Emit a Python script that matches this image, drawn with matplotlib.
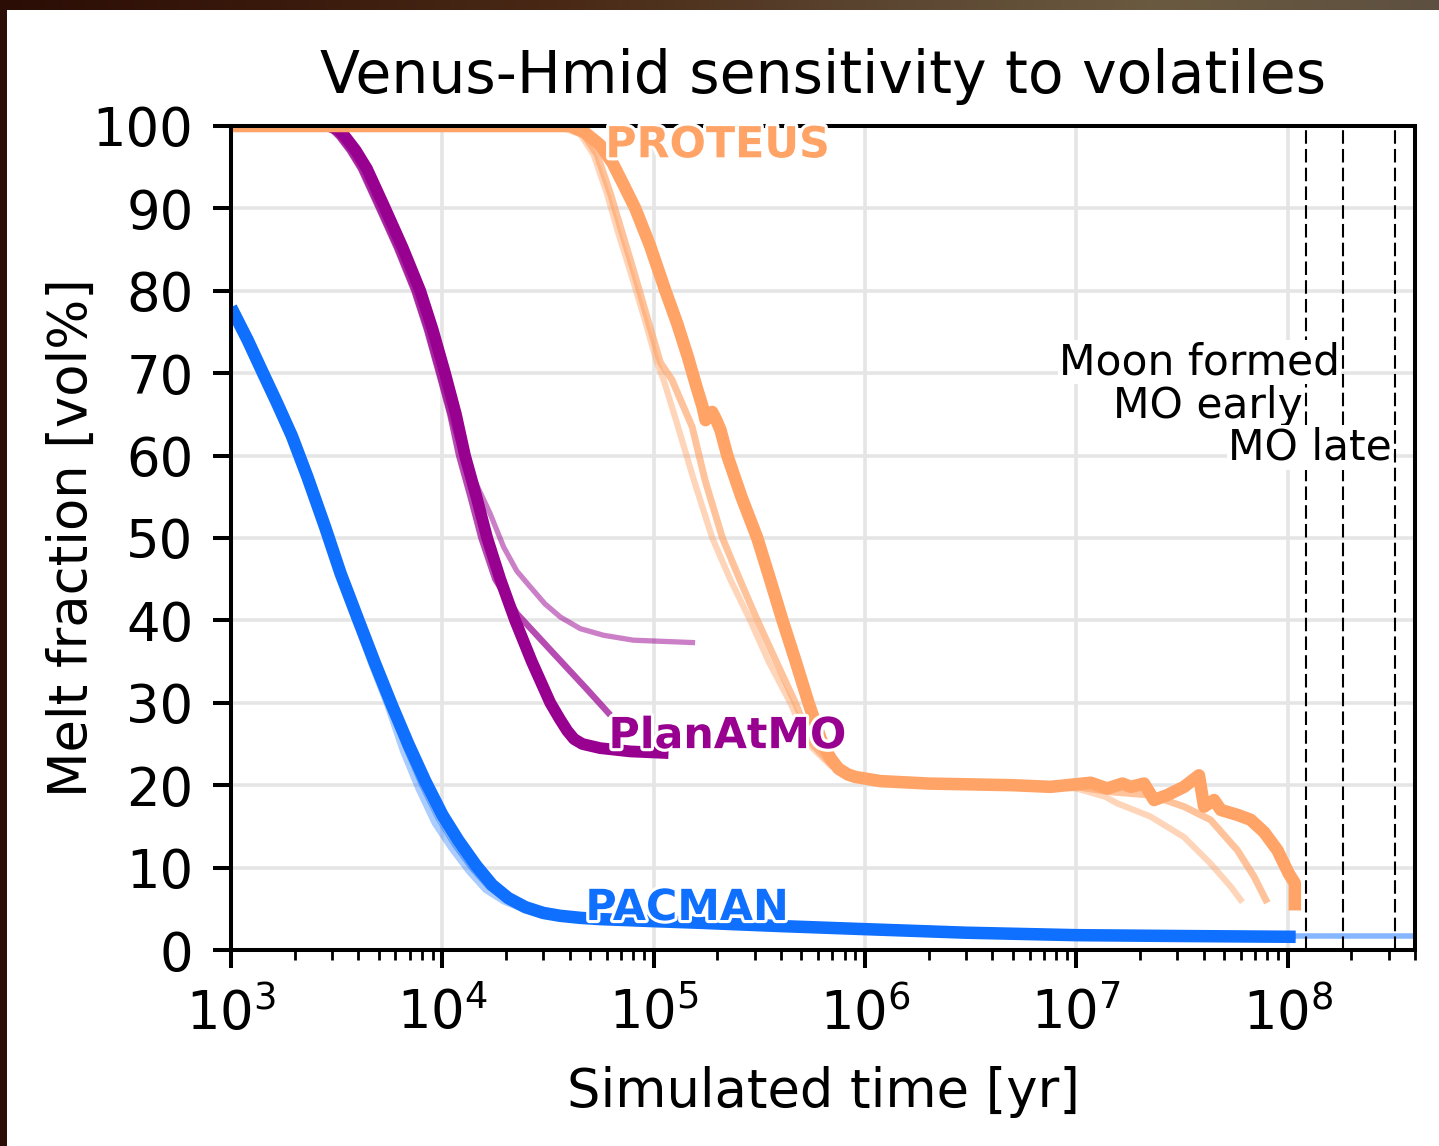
import matplotlib
matplotlib.use("Agg")
import matplotlib.pyplot as plt
import matplotlib.patheffects as pe
from matplotlib.patches import Rectangle
from matplotlib.colors import LinearSegmentedColormap
import numpy as np

# PACMAN runs
pacman_t1 = [1.0e3, 1.2e3, 1.4e3, 1.65e3, 1.94e3, 2.3e3, 2.79e3, 3.3e3, 4.01e3, 4.8e3,
             5.77e3, 6.9e3, 8.3e3, 1.0e4, 1.19e4, 1.45e4, 1.72e4, 2.05e4, 2.47e4, 3.0e4,
             3.61e4, 4.5e4, 5.58e4, 1.0e5, 1.66e5, 4.0e5, 9.5e5, 3.0e6, 1.0e7, 3.0e7, 1.09e8]
pacman_m1 = [78.0, 74.0, 70.3, 66.4, 62.4, 57.4, 51.3, 45.7, 40.0, 34.8,
             29.7, 25.0, 20.5, 16.4, 13.3, 10.2, 7.9, 6.3, 5.2, 4.5,
             4.15, 3.9, 3.75, 3.5, 3.3, 2.9, 2.55, 2.1, 1.8, 1.7, 1.6]
pacman_t2 = [1.0e3, 1.2e3, 1.4e3, 1.65e3, 1.94e3, 2.3e3, 2.79e3, 3.3e3, 3.95e3, 4.7e3,
             5.6e3, 6.7e3, 8.0e3, 9.6e3, 1.14e4, 1.39e4, 1.66e4, 2.0e4, 2.42e4, 3.0e4,
             3.61e4, 4.5e4, 5.58e4, 1.0e5, 1.66e5, 4.0e5, 9.5e5, 3.0e6, 1.0e7, 3.0e7, 1.09e8, 4.0e8]
pacman_m2 = [78.0, 74.0, 70.3, 66.4, 62.4, 57.4, 51.3, 45.7, 40.0, 34.8,
             29.7, 24.6, 20.0, 15.9, 12.8, 9.8, 7.6, 6.1, 5.1, 4.5,
             4.15, 3.9, 3.75, 3.5, 3.3, 2.9, 2.55, 2.1, 1.8, 1.75, 1.7, 1.7]
pacman_t3 = [1.0e3, 1.2e3, 1.4e3, 1.65e3, 1.94e3, 2.3e3, 2.79e3, 3.3e3, 3.9e3, 4.6e3,
             5.5e3, 6.5e3, 7.7e3, 9.2e3, 1.1e4, 1.34e4, 1.6e4, 1.95e4, 2.38e4, 3.0e4,
             3.61e4, 4.5e4, 5.58e4, 1.0e5, 1.66e5, 4.0e5, 9.5e5, 3.0e6, 1.0e7, 3.0e7, 1.09e8]
pacman_m3 = [78.0, 74.0, 70.3, 66.4, 62.4, 57.4, 51.3, 45.7, 40.0, 34.8,
             29.7, 24.2, 19.6, 15.4, 12.4, 9.5, 7.3, 5.9, 5.0, 4.5,
             4.15, 3.9, 3.75, 3.5, 3.3, 2.9, 2.55, 2.1, 1.8, 1.7, 1.6]

# PlanAtMO runs
planatmo_t1 = [1.0e3, 2.9e3, 3.2e3, 3.47e3, 3.9e3, 4.4e3, 5.36e3, 6.5e3, 7.86e3, 9.0e3,
               1.03e4, 1.16e4, 1.28e4, 1.45e4, 1.63e4, 1.88e4, 2.21e4, 2.65e4, 3.24e4, 3.6e4,
               3.9e4, 4.2e4, 4.6e4, 5.58e4, 7.75e4, 1.175e5]
planatmo_m1 = [100.0, 100.0, 99.6, 98.7, 97.0, 94.8, 90.0, 85.2, 80.0, 75.3,
               70.0, 65.0, 60.0, 55.0, 50.0, 45.0, 40.0, 35.0, 30.0, 28.0,
               26.6, 25.6, 25.0, 24.5, 24.1, 23.9]
planatmo_t2 = [1.0e3, 2.75e3, 3.0e3, 3.25e3, 3.65e3, 4.12e3, 5.02e3, 6.1e3, 7.37e3, 8.45e3,
               9.65e3, 1.09e4, 1.2e4, 1.36e4, 1.53e4, 1.78e4, 2.256e4, 3.36e4, 4.85e4, 6.24e4]
planatmo_m2 = [100.0, 100.0, 99.6, 98.7, 97.0, 94.8, 90.0, 85.2, 80.0, 75.3,
               70.0, 65.0, 60.0, 55.0, 50.0, 45.0, 40.8, 36.0, 31.6, 28.5]
planatmo_t3 = [1.0e3, 2.75e3, 3.0e3, 3.25e3, 3.65e3, 4.12e3, 5.02e3, 6.1e3, 7.37e3, 8.45e3,
               9.65e3, 1.09e4, 1.25e4, 1.45e4, 1.68e4, 1.95e4, 2.25e4, 2.6e4, 3.06e4, 3.62e4,
               4.49e4, 5.78e4, 8.0e4, 9.97e4, 1.57e5]
planatmo_m3 = [100.0, 100.0, 99.6, 98.7, 97.0, 94.8, 90.0, 85.2, 80.0, 75.3,
               70.0, 65.0, 60.0, 56.5, 53.0, 48.9, 46.0, 44.1, 42.0, 40.4,
               39.0, 38.2, 37.6, 37.5, 37.3]

# PROTEUS runs
proteus_t1 = [1.0e3, 4.03e4, 4.73e4, 5.58e4, 6.39e4, 7.16e4, 8.18e4, 9.6e4, 1.136e5, 1.289e5,
              1.45e5, 1.60e5, 1.70e5, 1.76e5, 1.83e5, 1.89e5, 1.97e5, 2.07e5, 2.23e5, 2.6e5,
              3.09e5, 3.55e5, 4.07e5, 4.7e5, 5.4e5, 6.29e5, 6.9e5, 7.49e5, 8.3e5, 9.0e5,
              1.18e6, 2.0e6, 5.0e6, 7.55e6, 1.17e7, 1.40e7, 1.65e7, 1.81e7, 2.09e7, 2.33e7,
              2.69e7, 3.23e7, 3.80e7, 4.02e7, 4.48e7, 4.82e7, 5.78e7, 6.68e7, 7.73e7, 8.94e7,
              1.01e8, 1.08e8, 1.08e8]
proteus_m1 = [100.0, 100.0, 99.2, 97.7, 95.5, 93.0, 90.0, 85.5, 80.0, 76.1,
              72.0, 68.2, 66.0, 64.3, 65.0, 65.3, 64.4, 63.1, 60.0, 55.0,
              50.0, 45.0, 40.0, 35.0, 30.0, 25.0, 23.2, 22.0, 21.3, 21.0,
              20.5, 20.2, 20.0, 19.8, 20.3, 19.6, 20.2, 19.8, 20.2, 18.2,
              18.8, 19.8, 21.2, 17.4, 18.2, 17.0, 16.4, 15.8, 14.3, 12.1,
              9.3, 8.1, 4.8]
proteus_t2 = [1.0e3, 3.8e4, 4.66e4, 5.4e4, 6.24e4, 7.1e4, 8.04e4, 9.3e4, 1.075e5, 1.22e5,
              1.38e5, 1.52e5, 1.75e5, 2.115e5, 2.55e5, 3.094e5, 3.8e5, 4.678e5, 5.628e5, 7.0e5,
              8.5e5, 1.0e6, 2.0e6, 5.0e6, 1.0e7, 1.45e7, 2.24e7, 3.23e7, 4.31e7, 5.78e7,
              6.93e7, 7.87e7]
proteus_m2 = [100.0, 100.0, 99.0, 96.5, 91.8, 87.0, 82.4, 76.8, 71.3, 69.2,
              66.0, 63.5, 57.0, 50.0, 45.0, 40.0, 35.0, 30.0, 25.0, 22.4,
              21.2, 20.6, 20.2, 20.0, 19.8, 19.2, 18.8, 17.4, 15.8, 12.1,
              8.9, 6.1]
proteus_t3 = [1.0e3, 3.5e4, 4.5e4, 5.2e4, 6.01e4, 6.8e4, 7.74e4, 9.0e4, 1.036e5, 1.114e5,
              1.289e5, 1.55e5, 1.893e5, 2.3e5, 2.862e5, 3.5e5, 4.43e5, 5.397e5, 6.857e5, 8.5e5,
              1.0e6, 2.0e6, 5.0e6, 1.0e7, 1.21e7, 1.37e7, 1.56e7, 2.24e7, 3.23e7, 4.31e7,
              5.37e7, 5.98e7]
proteus_m3 = [100.0, 100.0, 99.0, 96.5, 91.8, 87.0, 82.4, 76.8, 71.3, 69.2,
              63.9, 57.0, 50.0, 45.0, 40.0, 35.0, 30.0, 25.0, 22.4, 21.2,
              20.6, 20.2, 20.0, 19.6, 19.0, 18.6, 17.8, 16.2, 13.7, 10.5,
              7.7, 6.1]

# reference epochs [yr]
epoch_names = ["MO early", "Moon formed", "MO late"]
epoch_times = [1.22e8, 1.83e8, 3.22e8]
epoch_text_y = [64.6, 69.9, 59.5]

c_pacman = "#0f6fff"
c_planatmo = "#980090"
c_proteus = "#ffa366"

W, H = 1439, 1146
fig = plt.figure(figsize=(W / 100, H / 100), dpi=100)
fig.patch.set_facecolor("#2a0e07")

# dark backdrop strip along the top
bg = fig.add_axes([0, 1 - 10 / H, 1, 10 / H], zorder=-2)
bg_cmap = LinearSegmentedColormap.from_list(
    "bg", ["#2c0d06", "#3a1a0c", "#4a2a16", "#5a4430", "#6a5a40", "#5e5040"])
bg.imshow(np.linspace(0, 1, 256)[None, :], aspect="auto", cmap=bg_cmap)
bg.axis("off")
fig.add_artist(Rectangle((7 / W, 0), 1, 1 - 10 / H, transform=fig.transFigure,
                         facecolor="white", edgecolor="none", zorder=-1))

ax = fig.add_axes([231 / W, (H - 950) / H, (1415 - 231) / W, (950 - 126) / H])
ax.set_xscale("log")

ax.plot(pacman_t3, pacman_m3, color=c_pacman, alpha=0.35, lw=4.5, solid_capstyle="butt")
ax.plot(pacman_t2, pacman_m2, color=c_pacman, alpha=0.5, lw=4.0, solid_capstyle="butt")
ax.plot(pacman_t1, pacman_m1, color=c_pacman, lw=9, solid_capstyle="butt")

ax.plot(planatmo_t3, planatmo_m3, color=c_planatmo, alpha=0.5, lw=3.8, solid_capstyle="butt")
ax.plot(planatmo_t2, planatmo_m2, color=c_planatmo, alpha=0.7, lw=4.6, solid_capstyle="butt")
ax.plot(planatmo_t1, planatmo_m1, color=c_planatmo, lw=8.5, solid_capstyle="butt")

ax.plot(proteus_t3, proteus_m3, color=c_proteus, alpha=0.45, lw=4.5)
ax.plot(proteus_t2, proteus_m2, color=c_proteus, alpha=0.65, lw=5.0)
ax.plot(proteus_t1, proteus_m1, color=c_proteus, lw=9, solid_capstyle="butt")

for name, t, y in zip(epoch_names, epoch_times, epoch_text_y):
    ax.axvline(t, color="black", lw=1.5, dashes=(6.5, 2.5), zorder=4)
    ax.text(t * 0.965, y, name, ha="right", va="baseline", fontsize=30.5,
            bbox=dict(facecolor="white", edgecolor="none", pad=1), zorder=5)

stroke = [pe.withStroke(linewidth=4.5, foreground="white")]
ax.text(5.9e4, 96.2, "PROTEUS", color=c_proteus, fontsize=30.8, fontweight="bold",
        va="baseline", path_effects=stroke, clip_on=False, zorder=6)
ax.text(6.11e4, 24.5, "PlanAtMO", color=c_planatmo, fontsize=30.8, fontweight="bold",
        va="baseline", path_effects=stroke, zorder=6)
ax.text(4.75e4, 3.64, "PACMAN", color=c_pacman, fontsize=30.8, fontweight="bold",
        va="baseline", path_effects=stroke, zorder=6)

ax.set_xlim(1e3, 4e8)
ax.set_ylim(0, 100)
ax.set_yticks(range(0, 101, 10))
ax.grid(True, which="major", color="#e5e5e5", lw=2.6)
ax.set_axisbelow(True)

for s in ax.spines.values():
    s.set_linewidth(2.9)
ax.tick_params(which="major", length=13, width=2.9, labelsize=38, pad=14)
ax.tick_params(which="minor", length=7, width=2.0)

ax.set_xlabel("Simulated time [yr]", fontsize=38, labelpad=18)
ax.set_ylabel("Melt fraction [vol%]", fontsize=38, labelpad=-4)
ax.set_title("Venus-Hmid sensitivity to volatiles", fontsize=42, pad=24)

fig.savefig("out.png", dpi=100)
